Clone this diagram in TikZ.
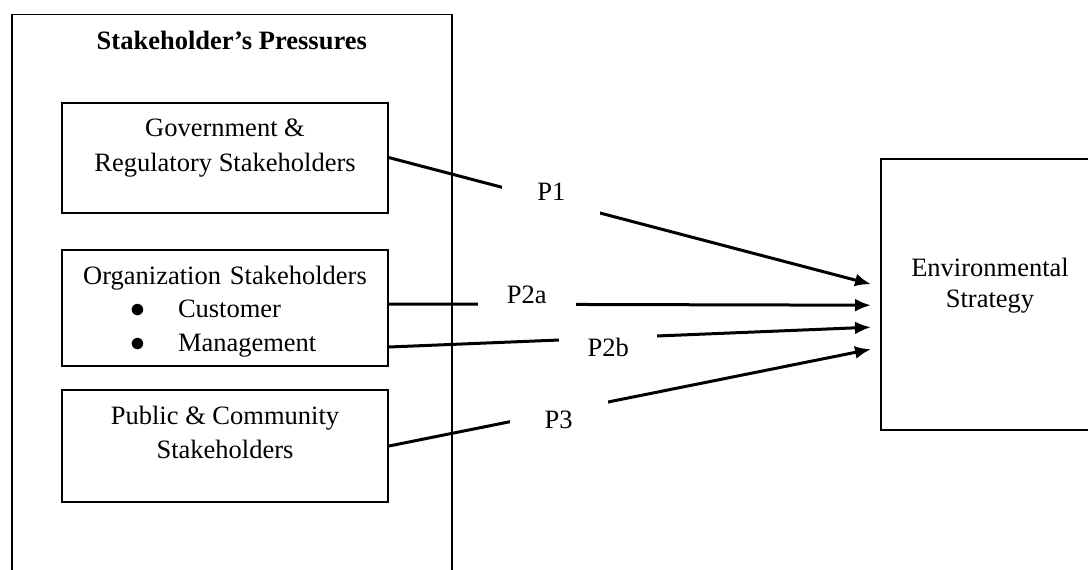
\documentclass[tikz,border=0pt]{standalone}
\usepackage{fontspec}
\setmainfont{Liberation Serif}
\usetikzlibrary{arrows.meta,positioning}

\begin{document}
\begin{tikzpicture}[
                  x=1pt, y=-1pt,
                  font=\fontsize{26.5}{33}\selectfont,
                  group/.style={rectangle, draw, line width=1.6pt, anchor=north west, minimum width=440pt, minimum height=600pt, inner sep=0pt},
                  block/.style={rectangle, draw, line width=2pt, minimum width=326pt, inner sep=0pt},
                  target/.style={rectangle, draw, line width=2.4pt, anchor=north west, minimum width=260pt, minimum height=271pt, inner sep=0pt},
                  txt/.style={inner sep=0pt, align=center},
                  line/.style={draw, line width=3pt, -{Latex[length=16pt,width=13pt]}},
                  plabel/.style={fill=white, minimum width=98pt, minimum height=56pt, inner sep=0pt}
            ]
            \useasboundingbox (0,0) rectangle (1088,570);
            \clip (0,0) rectangle (1088,570);

            % Nodes
            \node [group] (outer) at (11,13.5) {};
            \node [txt, font=\fontsize{26.5}{33}\selectfont\bfseries, below=17.5pt of outer.north] (title) {Stakeholder’s Pressures};
            \node [block, minimum height=110pt] (gov) at (225,157.6) {};
            \node [block, minimum height=115.5pt] (org) at (225,307.8) {};
            \node [block, minimum height=112pt] (public) at (225,446) {};
            \node [target] (env) at (880,158) {};

            % Texts
            \node [txt, below=17.5pt of gov.north] (govtext) {Government \&\\[2pt] Regulatory Stakeholders};
            \node [txt, align=left, text width=326pt, below=17pt of org.north] (orgtext) {\makebox[326pt]{Organization Stakeholders}\\
                  \hspace*{68.5pt}\makebox[47.5pt][l]{\scalebox{1.2}{$\bullet$}}Customer\\[1pt]
                  \hspace*{68.5pt}\makebox[47.5pt][l]{\scalebox{1.2}{$\bullet$}}Management};
            \node [txt, below=17pt of public.north] (pubtext) {Public \& Community\\[1pt] Stakeholders};
            \node [txt, anchor=north] (envtext) at ([xshift=110pt, yshift=-100pt]env.north west) {Environmental\\[-2pt] Strategy};

            % Ends
            \coordinate (s2a) at ([yshift=3.8pt]org.east);
            \coordinate (s2b) at ([yshift=-39.2pt]org.east);
            \coordinate (t1) at ([xshift=-9pt, yshift=10.5pt]env.west);
            \coordinate (t2) at ([xshift=-9pt, yshift=-10.5pt]env.west);
            \coordinate (t3) at ([xshift=-9pt, yshift=-32.5pt]env.west);
            \coordinate (t4) at ([xshift=-9pt, yshift=-54.5pt]env.west);

            % Edges
            \path [line] (gov.east) -- node [plabel, pos=0.337, yshift=9pt] (p1) {P1} (t1);
            \path [line] (s2a) -- node [plabel, pos=0.286, yshift=9pt] (p2a) {P2a} (t2);
            \path [line] (s2b) -- node [plabel, pos=0.455, yshift=-9pt] (p2b) {P2b} (t3);
            \path [line] (public.east) -- node [plabel, pos=0.352, yshift=-8pt] (p3) {P3} (t4);
      \end{tikzpicture}
\end{document}
